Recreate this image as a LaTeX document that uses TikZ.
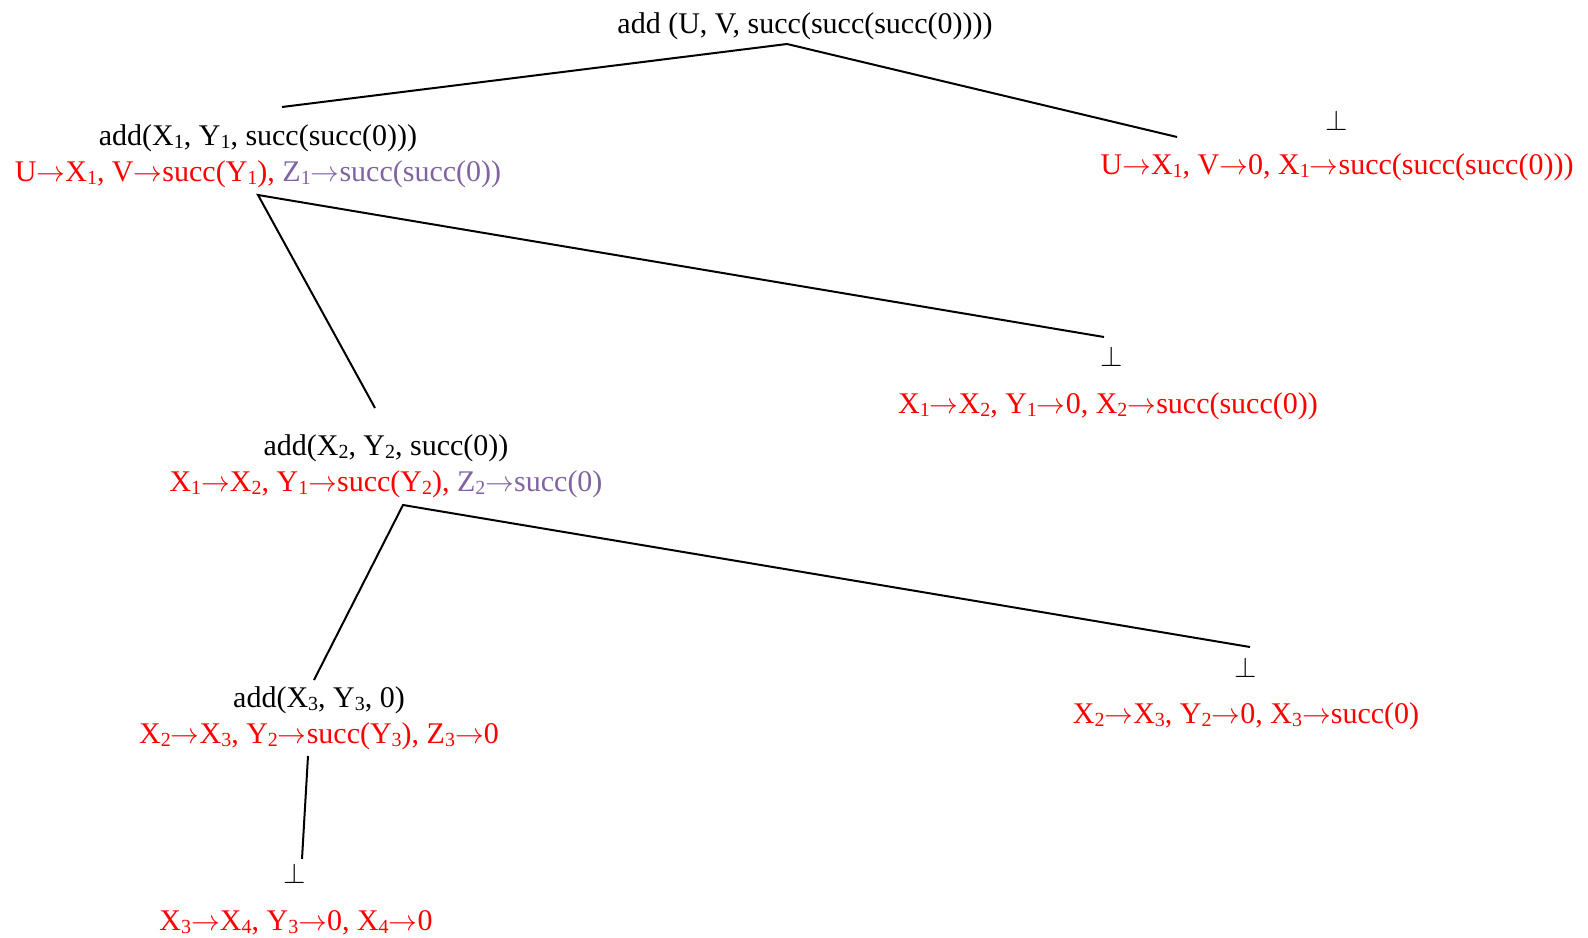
\documentclass[tikz,border=0pt]{standalone}
\usepackage{fontspec}
\setmainfont{Liberation Serif}
\definecolor{subst}{HTML}{FF0000}
\definecolor{fresh}{HTML}{8064A2}
\newcommand{\ix}[1]{\raisebox{-0.1em}{\fontsize{10}{10}\selectfont #1}}
\newcommand{\arr}{$\rightarrow$}

\begin{document}
\begin{tikzpicture}[x=0.5pt, y=-0.5pt,
    term/.style={anchor=base, inner sep=0pt, font=\fontsize{15}{18}\selectfont},
    bind/.style={term, text=subst},
    edge/.style={line width=1pt}]
        \useasboundingbox (0,0) rectangle (1588,937);
        % goals and bindings
        \node[term] (root) at (805,33) {add (U, V, succ(succ(succ(0))))};
        \node[term] (t1) at (258,145) {add(X\ix1, Y\ix1, succ(succ(0)))};
        \node[bind] (b1) at (258,181)
          {U\arr X\ix1, V\arr succ(Y\ix1), \textcolor{fresh}{Z\ix1\arr succ(succ(0))}};
        \node[term] (f1) at (1337,130) {$\bot$};
        \node[bind] (c1) at (1337,174)
          {U\arr X\ix1, V\arr 0, X\ix1\arr succ(succ(succ(0)))};
        \node[term] (t2) at (386,455) {add(X\ix2, Y\ix2, succ(0))};
        \node[bind] (b2) at (386,491)
          {X\ix1\arr X\ix2, Y\ix1\arr succ(Y\ix2), \textcolor{fresh}{Z\ix2\arr succ(0)}};
        \node[term] (f2) at (1112,366) {$\bot$};
        \node[bind] (c2) at (1108,413)
          {X\ix1\arr X\ix2, Y\ix1\arr 0, X\ix2\arr succ(succ(0))};
        \node[term] (t3) at (319,707) {add(X\ix3, Y\ix3, 0)};
        \node[bind] (b3) at (319,743)
          {X\ix2\arr X\ix3, Y\ix2\arr succ(Y\ix3), Z\ix3\arr 0};
        \node[term] (f3) at (1246,677) {$\bot$};
        \node[bind] (c3) at (1246,723)
          {X\ix2\arr X\ix3, Y\ix2\arr 0, X\ix3\arr succ(0)};
        \node[term] (f4) at (295,883) {$\bot$};
        \node[bind] (c4) at (296,930)
          {X\ix3\arr X\ix4, Y\ix3\arr 0, X\ix4\arr 0};
        % branch points
        \coordinate (r0) at (787,44);
        \coordinate (r1) at (282,107);
        \coordinate (r2) at (1177,137);
        \coordinate (s1) at (258,195);
        \coordinate (s1a) at (375,408);
        \coordinate (s1b) at (1104,337);
        \coordinate (s2) at (403,505);
        \coordinate (s2a) at (314,680);
        \coordinate (s2b) at (1250,647);
        \coordinate (s3) at (308,756);
        \coordinate (s3a) at (302,859);
        \draw[edge] (r1) -- (r0) -- (r2);
        \draw[edge] (s1a) -- (s1) -- (s1b);
        \draw[edge] (s2a) -- (s2) -- (s2b);
        \draw[edge] (s3) -- (s3a);
      \end{tikzpicture}
\end{document}
